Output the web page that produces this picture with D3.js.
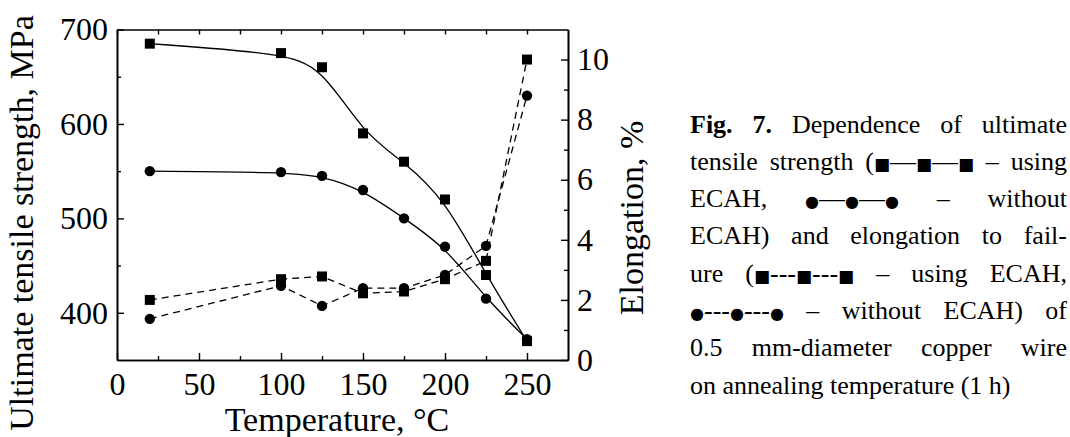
<!DOCTYPE html>
<html><head><meta charset="utf-8">
<script src="https://cdn.jsdelivr.net/npm/d3@7"></script>
<style>
html,body{margin:0;padding:0;background:#fff;}
svg{display:block;}
text{font-family:"Liberation Serif","Times New Roman",serif;fill:#000;}
</style></head>
<body>
<svg id="chart" width="1070" height="437"></svg>
<script>
// ---- data ----
const temps = [20, 100, 125, 150, 175, 200, 225, 250];
const utsEcah = [685, 675, 660, 590, 560, 520, 440, 370];
const utsNoEcah = [550, 549, 545, 530, 500, 470, 415, 372];
const elongEcah = [2.0, 2.69, 2.78, 2.22, 2.28, 2.69, 3.3, 10.0];
const elongNoEcah = [1.37, 2.47, 1.8, 2.39, 2.39, 2.83, 3.8, 8.8];
const xMajor = [0, 50, 100, 150, 200, 250];
const xMinor = [25, 75, 125, 175, 225];
const yLMajor = [400, 500, 600, 700];
const yLMinor = [450, 550, 650];
const yRMajor = [0, 2, 4, 6, 8, 10];
const yRMinor = [1, 3, 5, 7, 9];
const xTitle = "Temperature, °C";
const yLTitle = "Ultimate tensile strength, MPa";
const yRTitle = "Elongation, %";
const captionLines = [
  [["Fig.", true], ["7.", true], ["Dependence"], ["of"], ["ultimate"]],
  [["tensile"], ["strength"], ["(■—■—■"], ["–"], ["using"]],
  [["ECAH,"], ["●—●—●"], ["–"], ["without"]],
  [["ECAH)"], ["and"], ["elongation"], ["to"], ["fail-"]],
  [["ure"], ["(■---■---■"], ["–"], ["using"], ["ECAH,"]],
  [["●---●---●"], ["–"], ["without"], ["ECAH)"], ["of"]],
  [["0.5"], ["mm-diameter"], ["copper"], ["wire"]]
];
const captionLast = "on annealing temperature (1 h)";

// ---- layout ----
const svg = d3.select("#chart");
const L = 117, R = 568, T = 29.5, B = 360;
const x = d3.scaleLinear().domain([0, 275]).range([L, R]);
const yL = d3.scaleLinear().domain([350, 700]).range([B, T]);
const yR = d3.scaleLinear().domain([0, 11]).range([B, T]);
const tickFont = 32, titleFont = 34;

function styleAxis(g) {
  g.attr("font-family", null);
  g.selectAll("path.domain").attr("stroke", "#000").attr("stroke-width", 1.6);
  g.selectAll(".tick line").attr("stroke", "#000").attr("stroke-width", 1.4);
  g.selectAll(".tick text").attr("font-size", tickFont).attr("fill", "#000");
}
// bottom
svg.append("g").attr("transform", `translate(0,${B})`)
  .call(d3.axisBottom(x).tickValues(xMajor).tickSize(-7).tickSizeOuter(0).tickPadding(12).tickFormat(d3.format("d")))
  .call(styleAxis);
svg.append("g").attr("transform", `translate(0,${B})`)
  .call(d3.axisBottom(x).tickValues(xMinor).tickSize(-4).tickSizeOuter(0).tickFormat(""))
  .call(styleAxis);
// top
svg.append("g").attr("transform", `translate(0,${T})`)
  .call(d3.axisTop(x).tickValues(xMajor.concat(xMinor)).tickSize(-5).tickSizeOuter(0).tickFormat(""))
  .call(styleAxis);
// left
svg.append("g").attr("transform", `translate(${L},0)`)
  .call(d3.axisLeft(yL).tickValues(yLMajor).tickSize(-7).tickSizeOuter(0).tickPadding(9).tickFormat(d3.format("d")))
  .call(styleAxis);
svg.append("g").attr("transform", `translate(${L},0)`)
  .call(d3.axisLeft(yL).tickValues(yLMinor).tickSize(-4).tickSizeOuter(0).tickFormat(""))
  .call(styleAxis);
// right
svg.append("g").attr("transform", `translate(${R},0)`)
  .call(d3.axisRight(yR).tickValues(yRMajor).tickSize(-7).tickSizeOuter(0).tickPadding(9).tickFormat(d3.format("d")))
  .call(styleAxis);
svg.append("g").attr("transform", `translate(${R},0)`)
  .call(d3.axisRight(yR).tickValues(yRMinor).tickSize(-4).tickSizeOuter(0).tickFormat(""))
  .call(styleAxis);

// titles
svg.append("text").attr("x", 337).attr("y", 431).attr("text-anchor", "middle")
  .attr("font-size", titleFont).text(xTitle);
svg.append("text").attr("transform", `translate(33,223) rotate(-90)`).attr("text-anchor", "middle")
  .attr("font-size", titleFont).text(yLTitle);
svg.append("text").attr("transform", `translate(643,218) rotate(-90)`).attr("text-anchor", "middle")
  .attr("font-size", titleFont).text(yRTitle);

// ---- series ----
const series = [
  {vals: utsEcah, y: yL, dash: null, shape: "square", curve: d3.curveBasis},
  {vals: utsNoEcah, y: yL, dash: null, shape: "circle", curve: d3.curveBasis},
  {vals: elongEcah, y: yR, dash: "7,5", shape: "square", curve: d3.curveLinear},
  {vals: elongNoEcah, y: yR, dash: "7,5", shape: "circle", curve: d3.curveLinear}
];
series.forEach(s => {
  const pts = temps.map((t, i) => [t, s.vals[i]]);
  const line = d3.line().x(d => x(d[0])).y(d => s.y(d[1])).curve(s.curve);
  svg.append("path").datum(pts).attr("d", line).attr("fill", "none")
    .attr("stroke", "#000").attr("stroke-width", 1.3)
    .attr("stroke-dasharray", s.dash);
});
series.forEach(s => {
  const pts = temps.map((t, i) => [t, s.vals[i]]);
  if (s.shape === "square") {
    svg.append("g").selectAll("rect").data(pts).join("rect")
      .attr("x", d => x(d[0]) - 5).attr("y", d => s.y(d[1]) - 5)
      .attr("width", 10).attr("height", 10).attr("fill", "#000");
  } else {
    svg.append("g").selectAll("circle").data(pts).join("circle")
      .attr("cx", d => x(d[0])).attr("cy", d => s.y(d[1])).attr("r", 5.2).attr("fill", "#000");
  }
});

// ---- caption (justified) ----
const capX0 = 690, capX1 = 1067, capY0 = 132.5, capDY = 37.3, capFont = 26;
const cap = svg.append("g").attr("font-size", capFont);
function addWord(w, y) {
  const t = cap.append("text").attr("y", y).attr("font-weight", w[1] ? "bold" : "normal");
  const runs = w[0].match(/[■●]|[^■●]+/g);
  runs.forEach(r => {
    const ts = t.append("tspan").text(r);
    if (r === "■") ts.attr("font-size", 17).attr("font-family", "DejaVu Sans");
    if (r === "●") ts.attr("font-size", 16).attr("font-family", "DejaVu Sans");
  });
  return t;
}
captionLines.forEach((words, li) => {
  const y = capY0 + li * capDY;
  const nodes = words.map(w => addWord(w, y));
  const widths = nodes.map(n => n.node().getComputedTextLength());
  const total = d3.sum(widths);
  const gap = (capX1 - capX0 - total) / (words.length - 1);
  let cx = capX0;
  nodes.forEach((n, i) => { n.attr("x", cx); cx += widths[i] + gap; });
});
cap.append("text").attr("x", capX0).attr("y", capY0 + captionLines.length * capDY).text(captionLast);
</script>
</body></html>
